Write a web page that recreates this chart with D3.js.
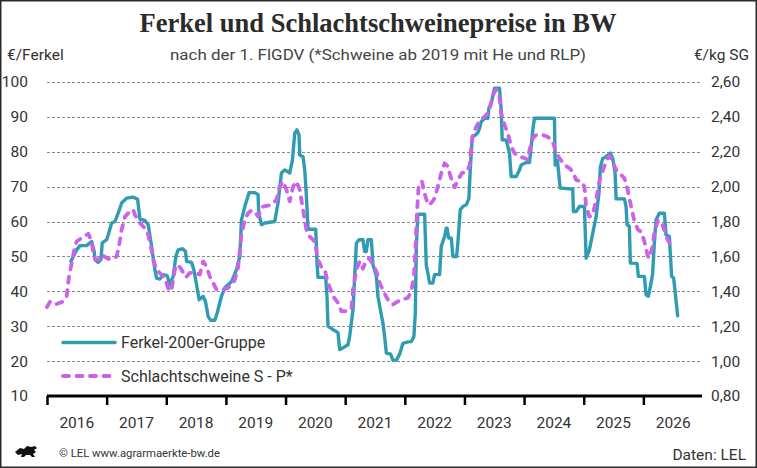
<!DOCTYPE html>
<html>
<head>
<meta charset="utf-8">
<script src="https://cdn.jsdelivr.net/npm/d3@7"></script>
<style>
  html, body { margin: 0; padding: 0; background: #fff; }
  svg { display: block; }
  text { font-family: Roboto, "Liberation Sans", sans-serif; fill: #333; }
</style>
</head>
<body>
<svg id="chart" width="757" height="468"></svg>
<script>
// ---- Data ----------------------------------------------------------------
// Ferkelpreis in EUR/Ferkel, time as decimal year
var ferkelT = [
  2016.402, 2016.497, 2016.553, 2016.665, 2016.749, 2016.792, 2016.804, 2016.859, 2016.905, 2016.926,
  2017.000, 2017.027, 2017.084, 2017.139, 2017.194, 2017.251, 2017.335, 2017.446, 2017.519, 2017.558,
  2017.642, 2017.697, 2017.754, 2017.809, 2017.838, 2017.893, 2017.948, 2018.015, 2018.060, 2018.116,
  2018.161, 2018.199, 2018.273, 2018.323, 2018.340, 2018.424, 2018.462, 2018.508, 2018.551, 2018.618,
  2018.658, 2018.702, 2018.742, 2018.814, 2018.853, 2018.926, 2018.982, 2019.037, 2019.094, 2019.178,
  2019.233, 2019.261, 2019.317, 2019.389, 2019.484, 2019.539, 2019.551, 2019.596, 2019.652, 2019.819,
  2019.874, 2019.931, 2019.987, 2020.070, 2020.116, 2020.154, 2020.193, 2020.226, 2020.238, 2020.293,
  2020.322, 2020.350, 2020.377, 2020.506, 2020.528, 2020.544, 2020.673, 2020.695, 2020.712, 2020.796,
  2020.853, 2020.879, 2020.908, 2020.963, 2021.047, 2021.075, 2021.131, 2021.188, 2021.231, 2021.298,
  2021.327, 2021.355, 2021.382, 2021.439, 2021.466, 2021.523, 2021.549, 2021.606, 2021.633, 2021.662,
  2021.690, 2021.762, 2021.801, 2021.858, 2021.913, 2021.968, 2022.052, 2022.109, 2022.152, 2022.176,
  2022.193, 2022.219, 2022.332, 2022.360, 2022.387, 2022.415, 2022.471, 2022.499, 2022.583, 2022.611,
  2022.667, 2022.695, 2022.709, 2022.734, 2022.779, 2022.806, 2022.868, 2022.889, 2022.930, 2022.973,
  2023.030, 2023.074, 2023.097, 2023.131, 2023.186, 2023.224, 2023.253, 2023.281, 2023.337, 2023.392,
  2023.409, 2023.449, 2023.504, 2023.588, 2023.616, 2023.633, 2023.700, 2023.755, 2023.784, 2023.868,
  2023.923, 2023.951, 2024.035, 2024.090, 2024.119, 2024.146, 2024.174, 2024.509, 2024.521, 2024.559,
  2024.605, 2024.816, 2024.827, 2024.873, 2024.928, 2025.012, 2025.040, 2025.095, 2025.151, 2025.208,
  2025.235, 2025.255, 2025.280, 2025.318, 2025.375, 2025.447, 2025.486, 2025.526, 2025.543, 2025.682,
  2025.710, 2025.727, 2025.765, 2025.782, 2025.894, 2025.916, 2026.017, 2026.045, 2026.084, 2026.129,
  2026.156, 2026.184, 2026.213, 2026.268, 2026.352, 2026.380, 2026.436, 2026.474, 2026.508, 2026.575
];
var ferkelPreis = [
  48.6, 51.9, 53.1, 53.1, 54.3, 51.4, 49.1, 48.3, 49.1, 53.9,
  54.8, 56.2, 59.6, 60.0, 62.4, 65.3, 66.7, 67.0, 66.4, 60.7,
  60.3, 59.1, 52.9, 46.2, 43.8, 43.5, 44.8, 44.5, 41.9, 44.3,
  50.0, 51.9, 52.2, 51.4, 48.6, 48.3, 46.2, 41.9, 37.6, 38.6,
  37.1, 32.8, 31.7, 31.7, 33.8, 38.6, 41.0, 41.9, 42.8, 46.2,
  50.0, 60.5, 64.3, 68.3, 68.3, 67.7, 62.4, 59.1, 59.6, 60.0,
  65.3, 73.9, 74.8, 73.9, 77.7, 85.3, 86.3, 84.8, 79.1, 78.6,
  74.8, 67.2, 57.8, 57.8, 48.1, 44.0, 44.0, 38.6, 30.0, 29.0,
  28.5, 28.1, 23.3, 23.8, 24.7, 27.1, 34.7, 53.8, 54.8, 54.8,
  51.4, 51.4, 54.8, 54.8, 47.6, 44.3, 38.6, 33.3, 30.9, 27.0,
  22.3, 22.0, 20.2, 20.3, 22.0, 25.1, 25.5, 25.6, 27.0, 33.7,
  52.9, 62.1, 62.1, 47.5, 45.2, 42.4, 42.4, 44.8, 44.8, 52.9,
  55.7, 58.1, 58.1, 55.3, 55.3, 50.0, 50.0, 53.8, 63.4, 64.3,
  64.8, 66.5, 74.8, 84.3, 84.8, 85.5, 86.7, 88.6, 89.6, 89.6,
  92.5, 93.9, 98.2, 98.2, 92.0, 83.4, 83.4, 79.6, 72.9, 72.9,
  74.8, 76.2, 76.9, 76.9, 81.5, 86.3, 89.6, 89.6, 76.2, 77.5,
  69.6, 69.3, 62.9, 62.9, 64.3, 64.3, 49.5, 51.9, 56.7, 61.4,
  65.3, 68.0, 75.7, 78.1, 78.6, 79.6, 78.1, 73.9, 66.5, 66.5,
  64.3, 59.1, 58.6, 48.1, 48.0, 44.3, 44.3, 39.0, 38.6, 42.4,
  45.2, 53.8, 60.5, 62.4, 62.4, 56.2, 55.7, 44.3, 43.8, 33.0
];

// Schlachtschweinepreis S - P in EUR/kg SG
var schweineT = [
  2016.000, 2016.050, 2016.134, 2016.273, 2016.330, 2016.369, 2016.414, 2016.457, 2016.497, 2016.581,
  2016.692, 2016.749, 2016.776, 2016.816, 2016.871, 2016.916, 2017.027, 2017.111, 2017.168, 2017.206,
  2017.251, 2017.307, 2017.390, 2017.446, 2017.474, 2017.558, 2017.642, 2017.697, 2017.742, 2017.781,
  2017.838, 2017.893, 2017.977, 2018.032, 2018.060, 2018.089, 2018.116, 2018.152, 2018.199, 2018.256,
  2018.328, 2018.395, 2018.508, 2018.563, 2018.591, 2018.618, 2018.675, 2018.730, 2018.786, 2018.843,
  2018.953, 2019.037, 2019.121, 2019.149, 2019.204, 2019.261, 2019.317, 2019.372, 2019.429, 2019.484,
  2019.539, 2019.623, 2019.764, 2019.848, 2019.903, 2019.958, 2020.015, 2020.070, 2020.126, 2020.183,
  2020.238, 2020.293, 2020.350, 2020.405, 2020.489, 2020.544, 2020.601, 2020.657, 2020.712, 2020.796,
  2020.879, 2020.936, 2021.020, 2021.104, 2021.131, 2021.188, 2021.243, 2021.298, 2021.355, 2021.410,
  2021.466, 2021.523, 2021.578, 2021.633, 2021.717, 2021.801, 2021.884, 2021.968, 2022.052, 2022.109,
  2022.152, 2022.176, 2022.203, 2022.231, 2022.287, 2022.332, 2022.387, 2022.444, 2022.499, 2022.554,
  2022.611, 2022.667, 2022.722, 2022.767, 2022.834, 2022.889, 2022.957, 2023.047, 2023.085, 2023.114,
  2023.141, 2023.198, 2023.253, 2023.337, 2023.392, 2023.432, 2023.476, 2023.533, 2023.588, 2023.616,
  2023.672, 2023.727, 2023.784, 2023.839, 2023.923, 2024.007, 2024.062, 2024.090, 2024.146, 2024.203,
  2024.313, 2024.397, 2024.481, 2024.538, 2024.593, 2024.677, 2024.760, 2024.816, 2024.873, 2024.956,
  2025.012, 2025.040, 2025.095, 2025.151, 2025.208, 2025.263, 2025.318, 2025.375, 2025.430, 2025.486,
  2025.543, 2025.626, 2025.682, 2025.737, 2025.794, 2025.849, 2025.905, 2025.966, 2026.017, 2026.072,
  2026.101, 2026.129, 2026.156, 2026.184, 2026.240, 2026.296, 2026.352, 2026.402, 2026.436, 2026.474
];
var schweinePreis = [
  1.310, 1.340, 1.324, 1.342, 1.372, 1.486, 1.562, 1.638, 1.686, 1.706,
  1.730, 1.686, 1.620, 1.582, 1.582, 1.610, 1.586, 1.586, 1.600, 1.658,
  1.752, 1.828, 1.858, 1.868, 1.838, 1.792, 1.762, 1.724, 1.658, 1.582,
  1.524, 1.504, 1.476, 1.418, 1.400, 1.410, 1.466, 1.540, 1.552, 1.524,
  1.480, 1.506, 1.504, 1.496, 1.542, 1.572, 1.542, 1.486, 1.448, 1.410,
  1.410, 1.420, 1.448, 1.466, 1.536, 1.724, 1.810, 1.848, 1.864, 1.856,
  1.830, 1.886, 1.896, 1.924, 2.000, 2.030, 1.982, 1.916, 2.000, 2.030,
  1.982, 1.868, 1.752, 1.714, 1.686, 1.582, 1.538, 1.524, 1.448, 1.372,
  1.334, 1.286, 1.286, 1.300, 1.410, 1.524, 1.572, 1.530, 1.580, 1.590,
  1.552, 1.514, 1.448, 1.406, 1.352, 1.324, 1.342, 1.354, 1.362, 1.400,
  1.486, 1.620, 1.848, 2.000, 2.030, 1.962, 1.896, 1.906, 1.934, 2.000,
  2.078, 2.134, 2.116, 2.058, 1.996, 2.038, 2.078, 2.086, 2.124, 2.230,
  2.296, 2.344, 2.376, 2.402, 2.420, 2.458, 2.526, 2.558, 2.516, 2.420,
  2.354, 2.306, 2.230, 2.192, 2.172, 2.164, 2.154, 2.210, 2.278, 2.296,
  2.296, 2.286, 2.258, 2.192, 2.164, 2.124, 2.106, 2.086, 2.038, 2.030,
  2.000, 1.886, 1.828, 1.838, 1.924, 2.030, 2.090, 2.144, 2.178, 2.144,
  2.096, 2.068, 2.048, 1.982, 1.886, 1.804, 1.756, 1.740, 1.686, 1.604,
  1.590, 1.628, 1.658, 1.734, 1.806, 1.800, 1.752, 1.700, 1.680, 1.638
];

var jahre = [2016, 2017, 2018, 2019, 2020, 2021, 2022, 2023, 2024, 2025, 2026];
var ticksLinks = [10, 20, 30, 40, 50, 60, 70, 80, 90, 100];
var ticksRechts = [0.8, 1.0, 1.2, 1.4, 1.6, 1.8, 2.0, 2.2, 2.4, 2.6];

var TITEL = 'Ferkel und Schlachtschweinepreise in BW';
var UNTERTITEL = 'nach der 1. FlGDV (*Schweine ab 2019 mit He und RLP)';
var LEGENDE = ['Ferkel-200er-Gruppe', 'Schlachtschweine S - P*'];

// ---- Layout ----------------------------------------------------------------
var W = 757, H = 468;
var plot = { left: 47, right: 703, top: 82, bottom: 396 };
var TEAL = '#309CB1';
var PINK = '#CB63EA';

var de = d3.formatLocale({ decimal: ',', thousands: '.', grouping: [3], currency: ['', ' €'] });
var fmt2 = de.format('.2f');

var svg = d3.select('#chart');

var x = d3.scaleLinear().domain([2016, 2027]).range([plot.left, plot.right]);
var yL = d3.scaleLinear().domain([10, 100]).range([plot.bottom, plot.top]);
var yR = d3.scaleLinear().domain([0.8, 2.6]).range([plot.bottom, plot.top]);

// frame
svg.append('rect')
  .attr('x', 0.75).attr('y', 0.75)
  .attr('width', W - 1.5).attr('height', H - 1.5)
  .attr('fill', '#fff').attr('stroke', '#2b2b2b').attr('stroke-width', 1.5);

// title + subtitle
var title = svg.append('text')
  .attr('x', 378).attr('y', 32)
  .attr('text-anchor', 'middle')
  .style('font-family', '"Liberation Serif", "DejaVu Serif", serif')
  .style('font-weight', 'bold')
  .style('font-size', '28px')
  .style('fill', '#2b2b2b')
  .attr('textLength', 477)
  .attr('lengthAdjust', 'spacingAndGlyphs')
  .text(TITEL);

svg.append('text')
  .attr('x', 378).attr('y', 60)
  .attr('text-anchor', 'middle')
  .style('font-size', '15.5px').style('fill', '#444')
  .attr('textLength', 416).attr('lengthAdjust', 'spacingAndGlyphs')
  .text(UNTERTITEL);

svg.append('text')
  .attr('x', 7).attr('y', 60)
  .style('font-size', '15.5px').style('fill', '#333')
  .text('€/Ferkel');

svg.append('text')
  .attr('x', 749).attr('y', 60)
  .attr('text-anchor', 'end')
  .style('font-size', '15.5px').style('fill', '#333')
  .text('€/kg SG');

// gridlines
svg.append('g')
  .attr('class', 'grid')
  .selectAll('line')
  .data(ticksLinks.filter(function(d) { return d > 10; }))
  .enter().append('line')
  .attr('x1', plot.left).attr('x2', plot.right - 1)
  .attr('y1', function(d) { return Math.round(yL(d)) + 0.5; })
  .attr('y2', function(d) { return Math.round(yL(d)) + 0.5; })
  .attr('stroke', '#8a8a8a').attr('stroke-width', 1)
  .attr('stroke-dasharray', '3,2');

// left axis labels
var gL = svg.append('g')
  .attr('transform', 'translate(28,0)')
  .call(d3.axisLeft(yL).tickValues(ticksLinks).tickSize(0).tickPadding(0));
gL.select('.domain').remove();
gL.selectAll('text')
  .style('font-family', 'Roboto, sans-serif')
  .style('font-size', '15.5px').style('fill', '#333');

// right axis labels
var gR = svg.append('g')
  .attr('transform', 'translate(711,0)')
  .call(d3.axisRight(yR).tickValues(ticksRechts).tickSize(0).tickPadding(0).tickFormat(fmt2));
gR.select('.domain').remove();
gR.selectAll('text')
  .style('font-family', 'Roboto, sans-serif')
  .style('font-size', '15.5px').style('fill', '#333');

// x axis
var gX = svg.append('g')
  .attr('transform', 'translate(0,' + plot.bottom + ')')
  .call(d3.axisBottom(x).tickValues(jahre).tickSize(9).tickFormat(''));
gX.select('.domain')
  .attr('d', 'M' + plot.left + ',0H' + (plot.right - 1))
  .attr('stroke', '#000').attr('stroke-width', 3);
gX.selectAll('.tick line').attr('stroke', '#000').attr('stroke-width', 2.5);

svg.append('g')
  .selectAll('text')
  .data(jahre)
  .enter().append('text')
  .attr('x', function(d) { return x(d + 0.5); })
  .attr('y', 428)
  .attr('text-anchor', 'middle')
  .style('font-size', '15.5px').style('fill', '#333')
  .text(function(d) { return d; });

// series
var ferkel = ferkelT.map(function(t, i) { return [t, ferkelPreis[i]]; });
var schweine = schweineT.map(function(t, i) { return [t, schweinePreis[i]]; });

var lineL = d3.line().x(function(d) { return x(d[0]); }).y(function(d) { return yL(d[1]); });
var lineR = d3.line().x(function(d) { return x(d[0]); }).y(function(d) { return yR(d[1]); });

svg.append('path')
  .datum(ferkel)
  .attr('d', lineL)
  .attr('fill', 'none')
  .attr('stroke', TEAL).attr('stroke-width', 3.4)
  .attr('stroke-linejoin', 'round').attr('stroke-linecap', 'round');

svg.append('path')
  .datum(schweine)
  .attr('d', lineR)
  .attr('fill', 'none')
  .attr('stroke', PINK).attr('stroke-width', 3.8)
  .attr('stroke-dasharray', '6,7.5')
  .attr('stroke-linejoin', 'round').attr('stroke-linecap', 'round');

// legend
var leg = svg.append('g');
leg.append('line')
  .attr('x1', 63).attr('x2', 115).attr('y1', 342.5).attr('y2', 342.5)
  .attr('stroke', TEAL).attr('stroke-width', 3.6).attr('stroke-linecap', 'round');
leg.append('text')
  .attr('x', 121).attr('y', 348)
  .style('font-size', '16px').style('fill', '#333')
  .text(LEGENDE[0]);
leg.append('line')
  .attr('x1', 63).attr('x2', 115).attr('y1', 376).attr('y2', 376)
  .attr('stroke', PINK).attr('stroke-width', 3.8)
  .attr('stroke-dasharray', '6,7.5').attr('stroke-linecap', 'round');
leg.append('text')
  .attr('x', 121).attr('y', 382)
  .style('font-size', '16px').style('fill', '#333')
  .text(LEGENDE[1]);

// footer: state emblem (simplified), copyright, source
svg.append('path')
  .attr('d', 'M15,452 L20,448 L24,449 L27,446 L31,447 L35,446 L37,448 L34,450 L36,452 ' +
             'L33,454 L35,457 L32,457 L30,455 L26,455 L24,457 L21,457 L22,454 L18,455 Z')
  .attr('fill', '#111');

svg.append('text')
  .attr('x', 59).attr('y', 457)
  .style('font-size', '11px').style('fill', '#333')
  .attr('textLength', 161).attr('lengthAdjust', 'spacingAndGlyphs')
  .text('© LEL www.agrarmaerkte-bw.de');

svg.append('text')
  .attr('x', 746).attr('y', 460)
  .attr('text-anchor', 'end')
  .style('font-size', '15.5px').style('fill', '#333')
  .text('Daten: LEL');
</script>
</body>
</html>
